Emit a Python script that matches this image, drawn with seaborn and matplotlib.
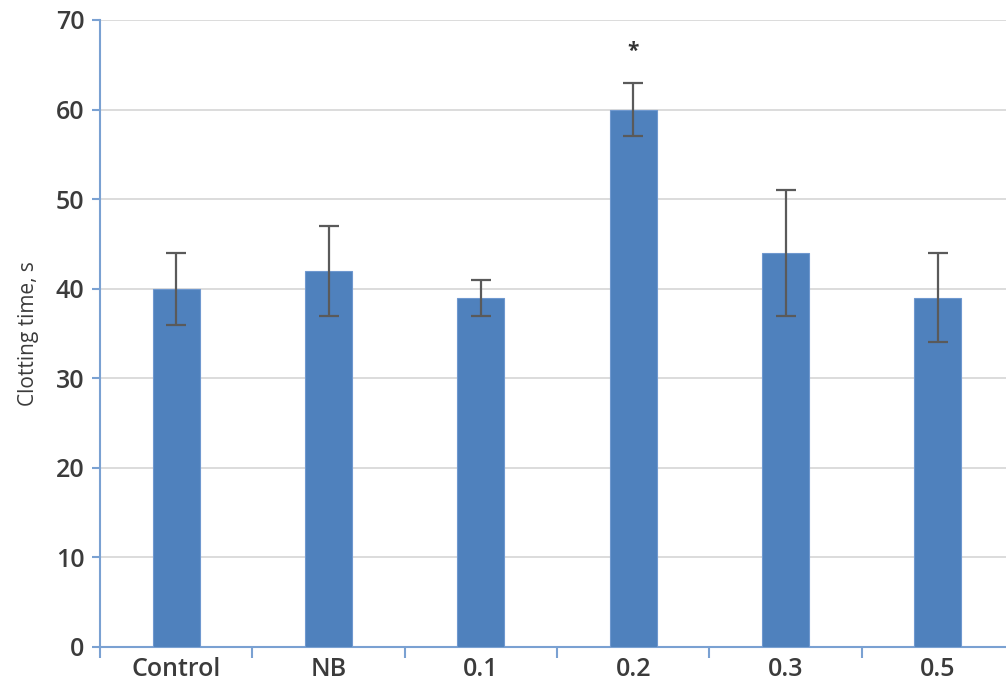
import matplotlib
matplotlib.use("Agg")
import matplotlib.pyplot as plt
import seaborn as sns
import pandas as pd
import numpy as np

# Clotting time per group (mean and error)
groups = ["Control", "NB", "0.1", "0.2", "0.3", "0.5"]
means = [40, 42, 39, 60, 44, 39]
errors = [4, 5, 2, 3, 7, 5]
y_ticks = [0, 10, 20, 30, 40, 50, 60, 70]
star_group = "0.2"
star_y = 66.5

df = pd.DataFrame({"group": groups, "time": means, "err": errors})

sns.set_theme(style="white")
plt.rcParams["font.family"] = ["Open Sans", "DejaVu Sans"]

fig = plt.figure(figsize=(10.06, 6.89), dpi=100)
ax = fig.add_axes([0.0994, 0.061, 0.9086, 0.910])

bar_color = "#4f81bd"
axis_color = "#7aa1d2"
text_color = "#3b3b3b"

sns.barplot(data=df, x="group", y="time", color=bar_color, width=0.31,
            saturation=1, errorbar=None, ax=ax, zorder=3,
            edgecolor="#6f98cf", linewidth=0.8)

xpos = np.arange(len(groups))
ax.errorbar(xpos, df["time"], yerr=df["err"], fmt="none", ecolor="#5a5a5a",
            elinewidth=1.6, capsize=7, capthick=1.6, zorder=4)

ax.text(groups.index(star_group), star_y, "*", ha="center", va="center",
        fontsize=15, color="#333333", fontweight="bold")

ax.set_ylim(0, 70)
ax.set_xlim(-0.5, len(groups) - 0.5)
ax.set_yticks(y_ticks)
ax.yaxis.grid(True, color="#d9d9d9", linewidth=1.3, zorder=0)
ax.set_axisbelow(True)

for side in ["top", "right"]:
    ax.spines[side].set_visible(False)
for side in ["left", "bottom"]:
    ax.spines[side].set_color(axis_color)
    ax.spines[side].set_linewidth(1.5)

ax.set_xlabel("")
ax.set_ylabel("Clotting time, s", fontsize=15, color=text_color, labelpad=12)

ax.tick_params(axis="y", which="major", left=True, length=6, width=1.5,
               color=axis_color, labelsize=18, labelcolor=text_color, pad=5)
ax.set_xticks(xpos)
ax.set_xticklabels(groups)
ax.tick_params(axis="x", which="major", bottom=False, length=0,
               labelsize=18, labelcolor=text_color, pad=7)
ax.set_xticks(np.arange(-0.5, len(groups), 1.0), minor=True)
ax.tick_params(axis="x", which="minor", bottom=True, length=8, width=1.5,
               color=axis_color)
for lbl in ax.get_xticklabels() + ax.get_yticklabels():
    lbl.set_fontweight("semibold")

fig.savefig("out.png", dpi=100)
